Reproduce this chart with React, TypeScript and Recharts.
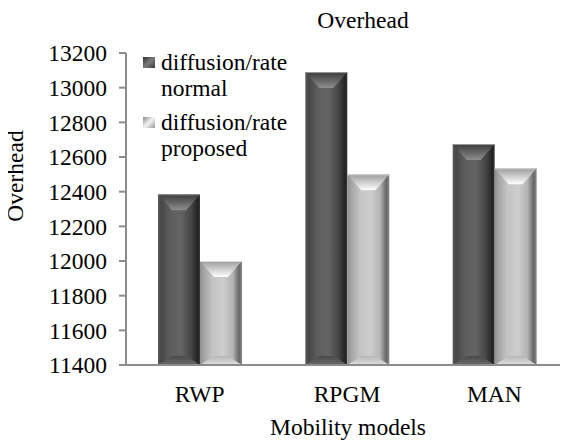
import { BarChart, Bar, XAxis, YAxis } from 'recharts';

// modelos de mobilidade no eixo X
const models = ['RWP', 'RPGM', 'MAN'];
// valores
const normalValues = [12385, 13090, 12675];
const proposedValues = [12000, 12500, 12535];
const yTicks = [11400, 11600, 11800, 12000, 12200, 12400, 12600, 12800, 13000, 13200];

const seriesNames = ['diffusion/rate normal', 'diffusion/rate proposed'];

const data = models.map((model, i) => ({
  model,
  normal: normalValues[i],
  proposed: proposedValues[i],
}));

const FONT = '"Liberation Serif", "Times New Roman", serif';
const FONT_SIZE = 23.5;

// barra com chanfro em cima e embaixo, imitando o estilo 3D do Excel
const BevelBar = (props: any) => {
  const { x, y, width, height, kind } = props;
  if (height <= 0) return null;
  const inset = Math.min(14, width / 3);
  const topDepth = Math.min(16, height / 2);
  const botDepth = Math.min(9, height / 3);
  return (
    <g>
      <rect x={x} y={y} width={width} height={height} fill={`url(#side-${kind})`} />
      <polygon
        points={`${x},${y} ${x + width},${y} ${x + width - inset},${y + topDepth} ${x + inset},${y + topDepth}`}
        fill={`url(#top-${kind})`}
      />
      <polygon
        points={`${x},${y + height} ${x + width},${y + height} ${x + width - inset},${y + height - botDepth} ${x + inset},${y + height - botDepth}`}
        fill={`url(#bot-${kind})`}
      />
      <line x1={x} y1={y + 0.5} x2={x + width} y2={y + 0.5} stroke={kind === 'dark' ? '#9a9a9a' : '#d8d8d8'} strokeWidth={1} />
    </g>
  );
};

const legendSwatch = [
  'linear-gradient(135deg, #2e2e2e, #7a7a7a 50%, #3a3a3a)',
  'linear-gradient(135deg, #8a8a8a, #f4f4f4 50%, #9a9a9a)',
];

const textBase: React.CSSProperties = {
  position: 'absolute',
  fontFamily: FONT,
  fontSize: FONT_SIZE,
  lineHeight: 1,
  color: '#000',
  whiteSpace: 'nowrap',
};

export default function App() {
  return (
    <div style={{ position: 'relative', width: 560, height: 432, background: '#fff', fontFamily: FONT }}>
      <BarChart
        width={560}
        height={432}
        data={data}
        margin={{ top: 45, right: 0, bottom: 0, left: 0 }}
        barGap={0}
        barSize={42}
      >
        <defs>
          <linearGradient id="side-dark" x1="0" y1="0" x2="1" y2="0">
            <stop offset="0%" stopColor="#5a5a5a" />
            <stop offset="8%" stopColor="#474747" />
            <stop offset="30%" stopColor="#5e5e5e" />
            <stop offset="55%" stopColor="#646464" />
            <stop offset="80%" stopColor="#444444" />
            <stop offset="95%" stopColor="#222222" />
            <stop offset="100%" stopColor="#3a3a3a" />
          </linearGradient>
          <linearGradient id="side-light" x1="0" y1="0" x2="1" y2="0">
            <stop offset="0%" stopColor="#8e8e8e" />
            <stop offset="8%" stopColor="#a2a2a2" />
            <stop offset="30%" stopColor="#c4c4c4" />
            <stop offset="55%" stopColor="#cdcdcd" />
            <stop offset="78%" stopColor="#b4b4b4" />
            <stop offset="93%" stopColor="#666666" />
            <stop offset="100%" stopColor="#8a8a8a" />
          </linearGradient>
          <linearGradient id="top-dark" x1="0" y1="0" x2="0" y2="1">
            <stop offset="0%" stopColor="#3a3a3a" />
            <stop offset="100%" stopColor="#8e8e8e" />
          </linearGradient>
          <linearGradient id="top-light" x1="0" y1="0" x2="0" y2="1">
            <stop offset="0%" stopColor="#9c9c9c" />
            <stop offset="100%" stopColor="#ffffff" />
          </linearGradient>
          <linearGradient id="bot-dark" x1="0" y1="0" x2="0" y2="1">
            <stop offset="0%" stopColor="#4a4a4a" />
            <stop offset="100%" stopColor="#6a6a6a" />
          </linearGradient>
          <linearGradient id="bot-light" x1="0" y1="0" x2="0" y2="1">
            <stop offset="0%" stopColor="#b8b8b8" />
            <stop offset="100%" stopColor="#dedede" />
          </linearGradient>
        </defs>
        <XAxis
          dataKey="model"
          height={75}
          tickLine={false}
          tickSize={0}
          tickMargin={20}
          stroke="#8c8c8c"
          strokeWidth={2}
          tick={{ fill: '#000', fontFamily: FONT, fontSize: FONT_SIZE }}
        />
        <YAxis
          width={118}
          domain={[11400, 13200]}
          ticks={yTicks}
          interval={0}
          tickSize={7}
          tickMargin={12}
          stroke="#8c8c8c"
          strokeWidth={2}
          tick={{ fill: '#000', fontFamily: FONT, fontSize: FONT_SIZE }}
        />
        <Bar
          dataKey="normal"
          name={seriesNames[0]}
          fill="#555"
          isAnimationActive={false}
          shape={(p: any) => <BevelBar {...p} kind="dark" />}
        />
        <Bar
          dataKey="proposed"
          name={seriesNames[1]}
          fill="#ccc"
          isAnimationActive={false}
          shape={(p: any) => <BevelBar {...p} kind="light" />}
        />
      </BarChart>
      {/* legenda desenhada à mão, sobre a área do gráfico */}
      <div style={{ position: 'absolute', left: 135, top: 41, fontFamily: FONT, fontSize: FONT_SIZE, lineHeight: '26px', color: '#000' }}>
        {seriesNames.map((name, i) => {
          const [first, second] = name.split(' ');
          return (
            <div key={name} style={{ display: 'flex', alignItems: 'flex-start', marginBottom: 8 }}>
              <div style={{ width: 12, height: 11, marginTop: 8, marginRight: 6, background: legendSwatch[i], flexShrink: 0 }} />
              <div>
                <div>{first}</div>
                <div>{second}</div>
              </div>
            </div>
          );
        })}
      </div>
      <div style={{ ...textBase, left: 355, top: 13, transform: 'translate(-50%, -50%)' }}>Overhead</div>
      <div style={{ ...textBase, left: 340, top: 420, transform: 'translate(-50%, -50%)' }}>Mobility models</div>
      <div style={{ ...textBase, left: 7.5, top: 168, transform: 'translate(-50%, -50%) rotate(-90deg)' }}>Overhead</div>
    </div>
  );
}
